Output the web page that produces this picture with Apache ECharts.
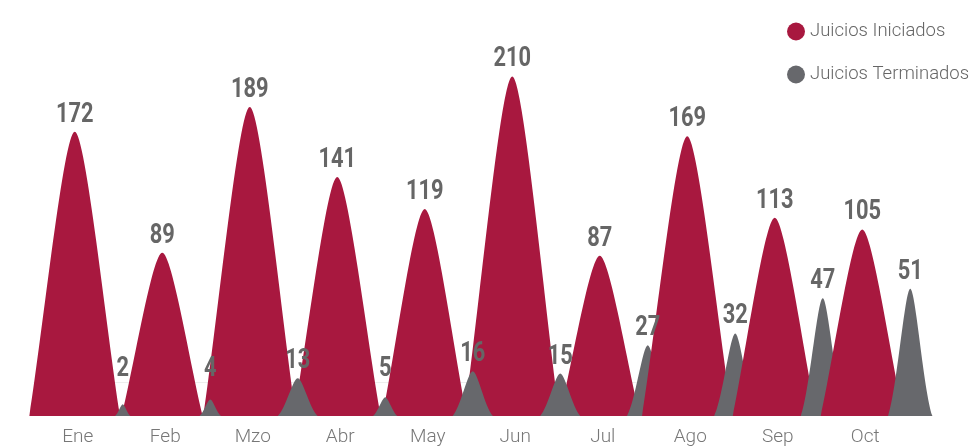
<!DOCTYPE html>
<html>
<head>
<meta charset="utf-8">
<script src="https://cdn.jsdelivr.net/npm/echarts@6/dist/echarts.min.js"></script>
<style>html,body{margin:0;padding:0;background:#fff}#c{width:971px;height:447px}</style>
</head>
<body>
<div id="c"></div>
<script>
const categories = ['Ene','Feb','Mzo','Abr','May','Jun','Jul','Ago','Sep','Oct'];
const iniciados = [172, 89, 189, 141, 119, 210, 87, 169, 113, 105];
const terminados = [2, 4, 13, 5, 16, 15, 27, 32, 47, 51];
const seriesNames = ['Juicios Iniciados', 'Juicios Terminados'];

const RED = '#A8183F';
const GRAY = '#67686C';
const LABEL = '#666666';
const RED_PATH = 'M0,10 C1.5,7 3.8,0 5,0 C6.2,0 8.5,7 10,10 Z';
const GRAY_PATH = 'M0,10 C2,8 3.8,0 5,0 C6.2,0 8,8 10,10 Z';

function makeRender(kind) {
  return function (params, api) {
    const idx = api.value(0);
    const v = api.value(1);
    const pt = api.coord([idx, v]);
    const base = params.coordSys.y + params.coordSys.height;
    const h = base - pt[1];
    let w, cx, labelY, path, color, z2;
    if (kind === 'red') {
      w = 68 + 0.08 * h;
      cx = pt[0] - 3;
      labelY = pt[1] - 3;
      path = RED_PATH; color = RED; z2 = idx * 2;
    } else {
      w = Math.min(1.3 * h, 38 + 0.05 * h);
      cx = pt[0] + 45;
      labelY = Math.min(pt[1] - 3, base - 33);
      path = GRAY_PATH; color = GRAY;
      z2 = h < 50 ? idx * 2 + 3 : idx * 2 + 1;
    }
    return {
      type: 'group',
      children: [
        {
          type: 'path',
          z2: z2,
          shape: { pathData: path, x: cx - w / 2, y: pt[1], width: w, height: h, layout: 'cover' },
          style: { fill: color }
        },
        {
          type: 'text',
          z2: 100,
          x: cx, y: labelY,
          scaleX: 0.78,
          style: {
            text: String(v),
            x: 0, y: 0,
            textAlign: 'center', textVerticalAlign: 'bottom',
            fill: LABEL,
            font: 'bold 28px Roboto, "Liberation Sans", sans-serif'
          }
        }
      ]
    };
  };
}

const chart = echarts.init(document.getElementById('c'), null, { renderer: 'canvas' });
chart.setOption({
  animation: false,
  backgroundColor: '#fff',
  legend: {
    orient: 'vertical',
    left: 782, top: 17,
    icon: 'circle',
    itemWidth: 18, itemHeight: 18, itemGap: 24,
    textStyle: { color: '#666', fontSize: 18.5, fontFamily: 'Roboto', fontWeight: 300 },
    data: seriesNames
  },
  grid: { left: 34, right: 62, top: 40, bottom: 29 },
  xAxis: {
    type: 'category',
    data: categories,
    axisLine: { show: true, lineStyle: { color: '#eee' } },
    axisTick: { show: false },
    axisLabel: { color: '#777', fontSize: 19, fontFamily: 'Roboto', fontWeight: 300, margin: 12 }
  },
  yAxis: [
    { type: 'value', min: -23, max: 235, show: false },
    { type: 'value', min: -3, max: 156.5, show: false }
  ],
  series: [
    {
      name: seriesNames[0], type: 'custom', yAxisIndex: 0,
      itemStyle: { color: RED },
      encode: { x: 0, y: 1 },
      renderItem: makeRender('red'),
      data: iniciados.map((v, i) => [i, v])
    },
    {
      name: seriesNames[1], type: 'custom', yAxisIndex: 1,
      itemStyle: { color: GRAY },
      encode: { x: 0, y: 1 },
      renderItem: makeRender('gray'),
      data: terminados.map((v, i) => [i, v])
    }
  ]
});
</script>
</body>
</html>
